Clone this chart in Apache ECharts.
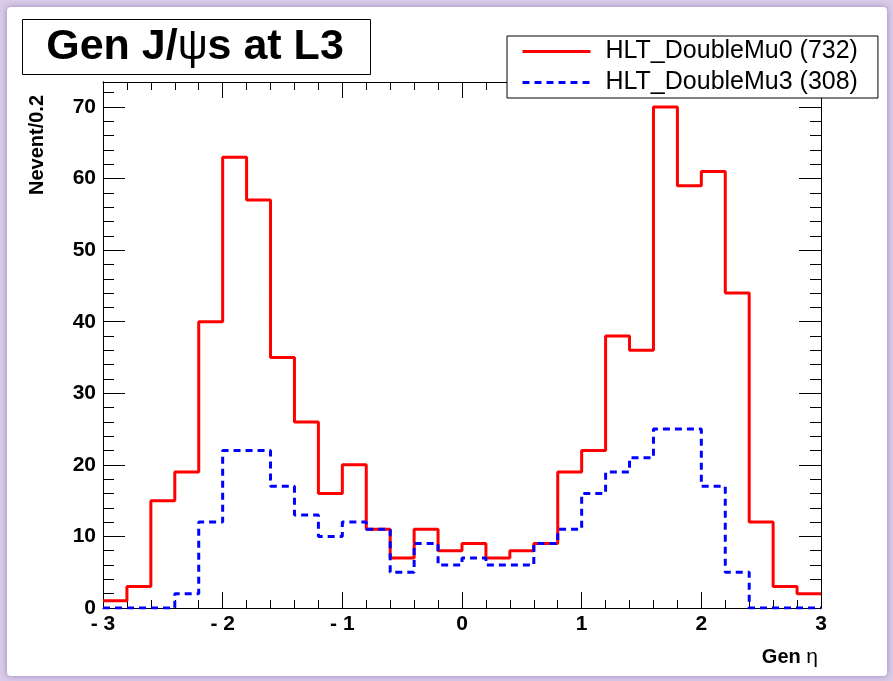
<!DOCTYPE html>
<html>
<head>
<meta charset="utf-8">
<script src="https://cdn.jsdelivr.net/npm/echarts@6/dist/echarts.min.js"></script>
<style>
  html, body { margin: 0; padding: 0; background: #ffffff; }
  #chart { width: 893px; height: 681px; }
</style>
</head>
<body>
<div id="chart"></div>
<script>
// Bin edges of the histogram (30 bins of width 0.2 from -3 to 3)
const binEdges = [-3.0, -2.8, -2.6, -2.4, -2.2, -2.0, -1.8, -1.6, -1.4, -1.2, -1.0,
                  -0.8, -0.6, -0.4, -0.2, 0.0, 0.2, 0.4, 0.6, 0.8, 1.0,
                  1.2, 1.4, 1.6, 1.8, 2.0, 2.2, 2.4, 2.6, 2.8, 3.0];
// Bin contents
const doubleMu0 = [1, 3, 15, 19, 40, 63, 57, 35, 26, 16, 20, 11, 7, 11, 8,
                   9, 7, 8, 9, 19, 22, 38, 36, 70, 59, 61, 44, 12, 3, 2];
const doubleMu3 = [0, 0, 0, 2, 12, 22, 22, 17, 13, 10, 12, 11, 5, 9, 6,
                   7, 6, 6, 9, 11, 16, 19, 21, 25, 25, 17, 5, 0, 0, 0];
const seriesNames = ['HLT_DoubleMu0 (732)', 'HLT_DoubleMu3 (308)'];
const xTicks = [-3, -2, -1, 0, 1, 2, 3];
const yTicks = [0, 10, 20, 30, 40, 50, 60, 70];
const yMax = 73.5;

function stepData(vals) {
  const d = vals.map((v, i) => [binEdges[i], v]);
  d.push([binEdges[binEdges.length - 1], vals[vals.length - 1]]);
  return d;
}

const FONT = 'Liberation Sans, Arial, Helvetica, sans-serif';
const chart = echarts.init(document.getElementById('chart'), null, { renderer: 'canvas' });

const baseX = {
  type: 'value', min: -3, max: 3, interval: 1,
  axisLine: { show: true, onZero: false, lineStyle: { color: '#000', width: 1 } },
  splitLine: { show: false },
  axisTick: { show: true, inside: true, length: 16, lineStyle: { color: '#000', width: 1 } },
  minorTick: { show: true, splitNumber: 5, length: 8, lineStyle: { color: '#000', width: 1 } }
};
function yAx(pos, interval, len, labels) {
  return {
    type: 'value', position: pos, min: 0, max: yMax, interval: interval, offset: 0,
    axisLine: { show: true, onZero: false, lineStyle: { color: '#000', width: 1 } },
    splitLine: { show: false },
    axisTick: { show: true, inside: true, length: len, lineStyle: { color: '#000', width: 1 } },
    axisLabel: labels ? {
      show: true, margin: 7, color: '#000', fontFamily: FONT, fontWeight: 'bold', fontSize: 21,
      formatter: v => (yTicks.indexOf(v) >= 0 ? String(v) : '')
    } : { show: false }
  };
}

const option = {
  animation: false,
  backgroundColor: '#d9cbe9',
  grid: { left: 103, right: 72, top: 82, bottom: 73, show: false, containLabel: false },
  xAxis: [
    Object.assign({}, baseX, {
      position: 'bottom',
      axisLabel: {
        show: true, margin: 6, color: '#000', fontFamily: FONT, fontWeight: 'bold', fontSize: 21,
        formatter: v => (xTicks.indexOf(v) < 0 ? '' : (v < 0 ? '- ' + Math.abs(v) : String(v)))
      }
    }),
    Object.assign({}, baseX, { position: 'top', axisLabel: { show: false } })
  ],
  yAxis: [
    yAx('left', 10, 22, true),
    yAx('left', 2, 11, false),
    yAx('right', 10, 22, false),
    yAx('right', 2, 11, false)
  ],
  legend: {
    orient: 'vertical', left: 507, top: 36,
    backgroundColor: '#fff', borderColor: '#000', borderWidth: 1, borderRadius: 0,
    padding: [3, 20, 3, 14], itemGap: 6, itemWidth: 68, itemHeight: 14,
    itemStyle: { opacity: 0 },
    lineStyle: { width: 3 },
    textStyle: { fontFamily: FONT, fontSize: 25, color: '#000', padding: [0, 0, 0, 10] },
    data: seriesNames
  },
  graphic: [
    { type: 'rect', z: -10, silent: true,
      shape: { x: 7, y: 7, width: 880, height: 669, r: 4 },
      style: { fill: '#ffffff', shadowBlur: 6, shadowColor: 'rgba(120,90,160,0.6)' } },
    { type: 'rect', z: 10, silent: true,
      shape: { x: 22.5, y: 19.5, width: 348, height: 55 },
      style: { fill: '#ffffff', stroke: '#000', lineWidth: 1 } },
    { type: 'text', z: 11, silent: true, x: 195, y: 47,
      style: {
        text: '{b|Gen J/}{g|ψ}{b|s at L3}', align: 'center', verticalAlign: 'middle',
        rich: {
          b: { fontFamily: FONT, fontWeight: 'bold', fontSize: 43, fill: '#000' },
          g: { fontFamily: FONT, fontWeight: 'normal', fontSize: 42, fill: '#000' }
        }
      } },
    { type: 'text', z: 11, silent: true, x: 37, y: 95, rotation: Math.PI / 2,
      style: { text: 'Nevent/0.2', align: 'right', verticalAlign: 'middle',
               fontFamily: FONT, fontWeight: 'bold', fontSize: 20, fill: '#000' } },
    { type: 'text', z: 11, silent: true, x: 818, y: 657,
      style: {
        text: '{b|Gen }{g|η}', align: 'right', verticalAlign: 'middle',
        rich: {
          b: { fontFamily: FONT, fontWeight: 'bold', fontSize: 20, fill: '#000' },
          g: { fontFamily: FONT, fontWeight: 'normal', fontSize: 21, fill: '#000' }
        }
      } }
  ],
  series: [
    { name: seriesNames[0], type: 'line', step: 'end', xAxisIndex: 0, yAxisIndex: 0,
      data: stepData(doubleMu0), showSymbol: false, symbol: 'none',
      lineStyle: { color: '#ff0000', width: 3, type: 'solid' },
      itemStyle: { color: '#ff0000' }, z: 3 },
    { name: seriesNames[1], type: 'line', step: 'end', xAxisIndex: 0, yAxisIndex: 0,
      data: stepData(doubleMu3), showSymbol: false, symbol: 'none',
      lineStyle: { color: '#0000ff', width: 3, type: [7, 5] },
      itemStyle: { color: '#0000ff' }, z: 4 }
  ]
};
chart.setOption(option);
</script>
</body>
</html>
